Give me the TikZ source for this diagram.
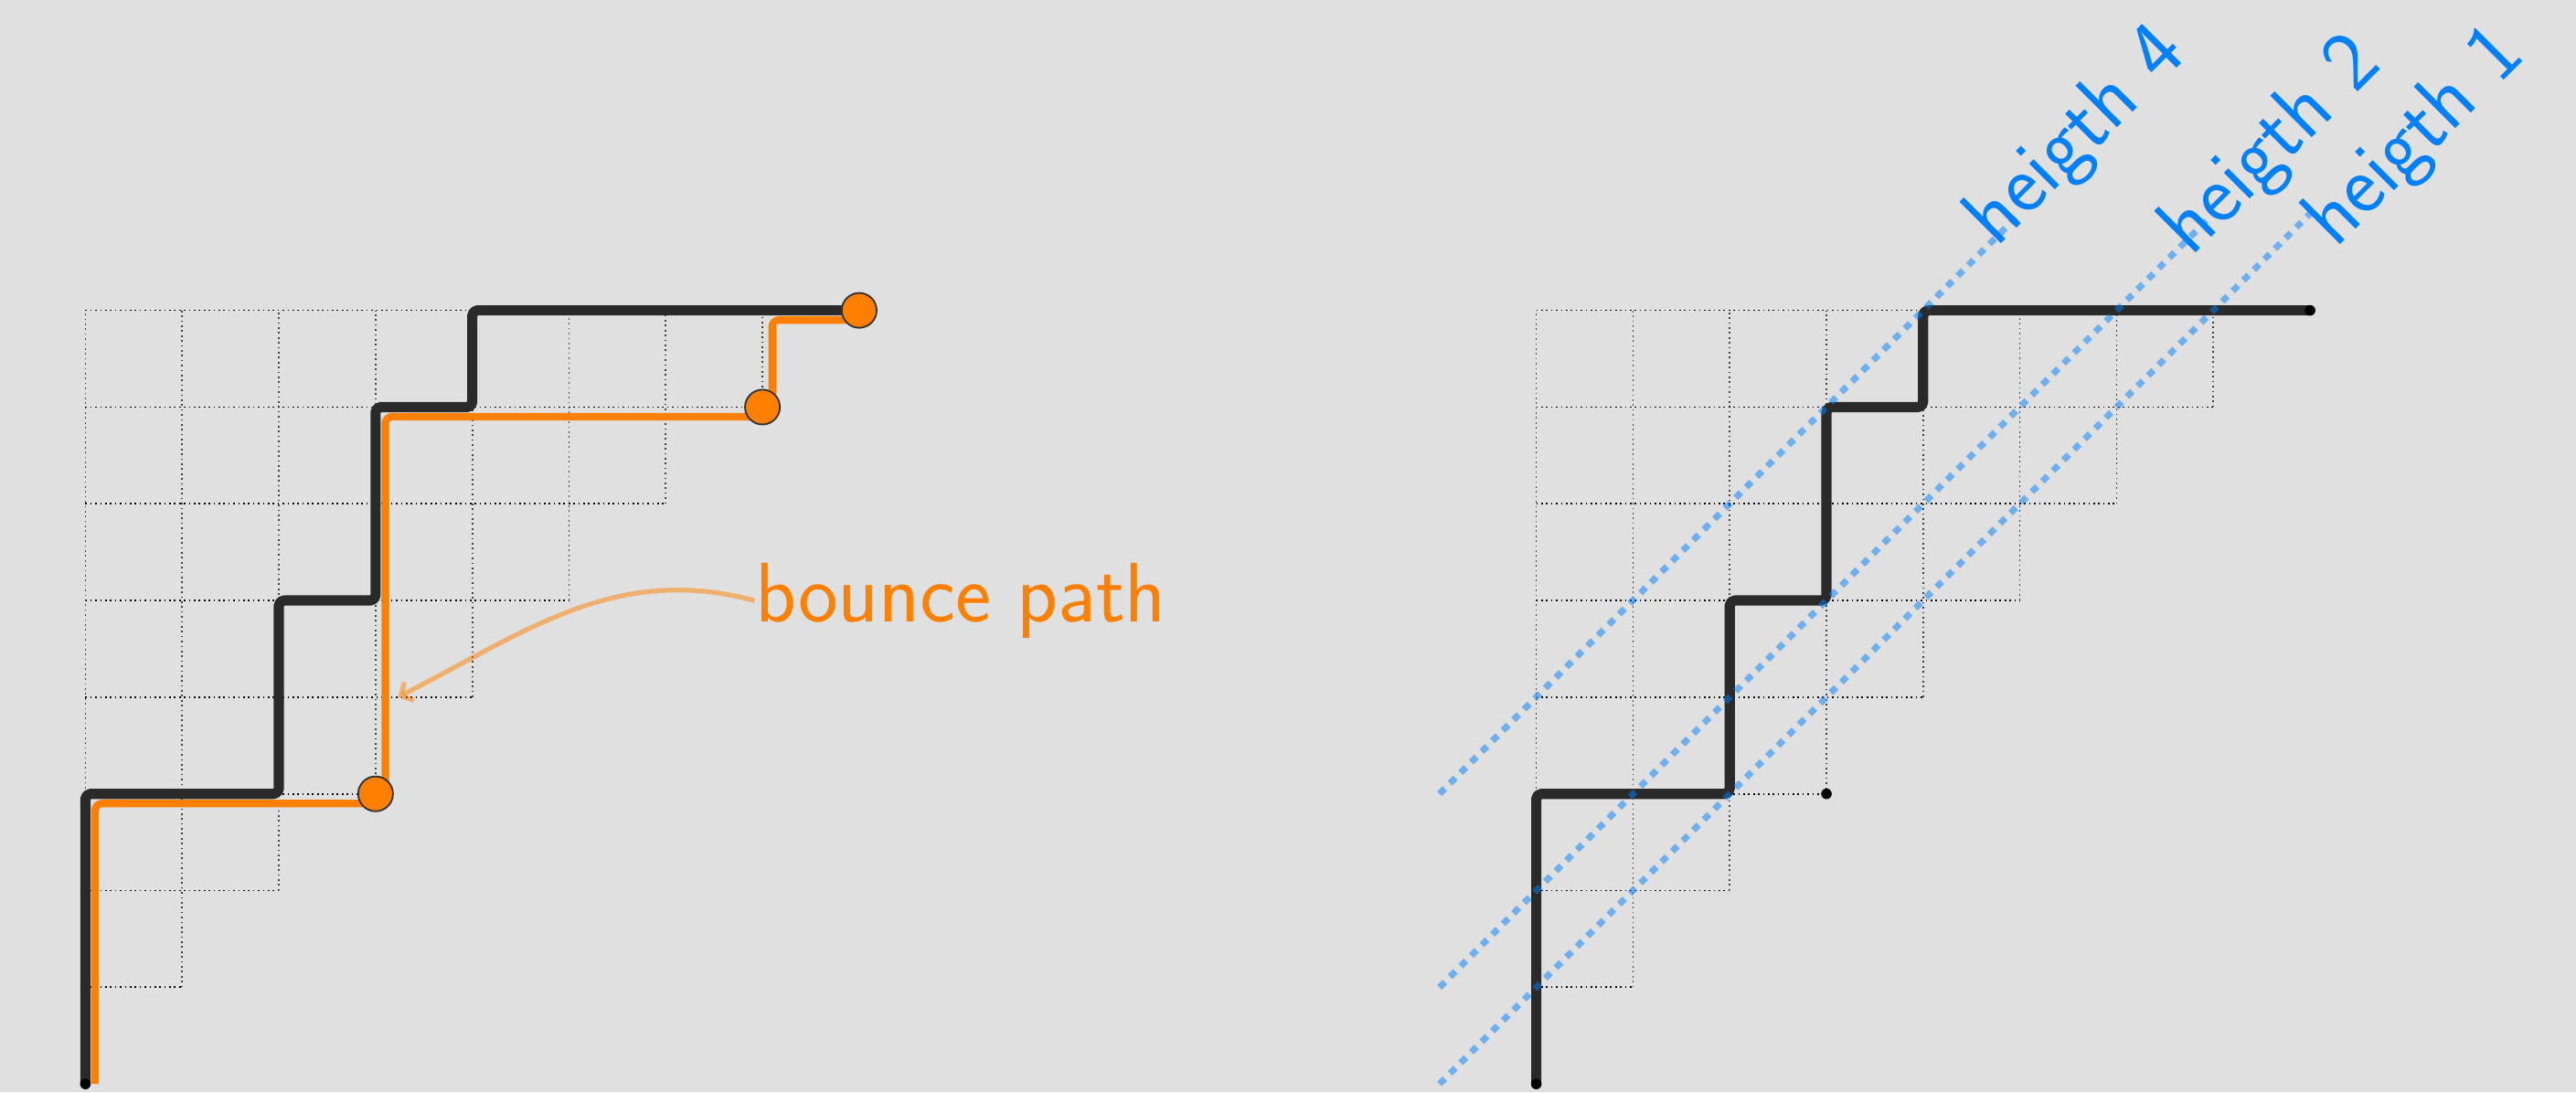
\documentclass[tikz,border=0pt]{standalone}
\usetikzlibrary{arrows.meta}
\definecolor{bg}{RGB}{224,224,224}
\definecolor{myorange}{RGB}{255,128,0}
\definecolor{myblue}{RGB}{0,128,255}
\definecolor{pathgray}{RGB}{42,42,42}
\begin{document}
\begin{tikzpicture}[
  gridh/.style={densely dotted, line width=0.45pt, black},
  gridv/.style={densely dotted, line width=0.45pt, black!75},
  dyck/.style={line width=3pt, pathgray, rounded corners=1.5pt, line join=round},
  bounce/.style={line width=2.2pt, myorange, rounded corners=2pt},
  bouncept/.style={circle, fill=myorange, draw=black!80, line width=0.5pt, minimum size=0.36cm, inner sep=0pt},
  enddot/.style={circle, fill=black, minimum size=0.11cm, inner sep=0pt},
  heightline/.style={myblue, opacity=0.5, line width=1.9pt, dash pattern=on 2.2pt off 2.2pt},
  hlabel/.style={text=myblue, font=\sffamily\Huge, rotate=45, anchor=base west, inner sep=0pt},
  bplabel/.style={text=myorange, font=\sffamily\Huge, anchor=base west, inner sep=0pt},
  barrow/.style={myorange, opacity=0.5, line width=1.4pt, -{Straight Barb[length=2.8pt,width=6pt]}}
]
\fill[bg] (-0.883,-0.085) rectangle (25.75,11.21);
\useasboundingbox (-0.883,-0.085) rectangle (25.75,11.21);

% ---- grids (both diagrams) ----
\foreach \s in {0,15} {
  \begin{scope}[xshift=\s cm]
    \foreach \i in {1,...,8} {
      \draw[gridh] (0,\i) -- (\i,\i);
      \draw[gridv] (\i,\i) -- (\i,8);
    }
    \draw[gridv] (0,0) -- (0,8);
  \end{scope}
}

% ---- left diagram ----
\draw[dyck] (0,0) -- (0,3) -- (2,3) -- (2,5) -- (3,5) -- (3,7) -- (4,7) -- (4,8) -- (8,8);
\node[enddot] (l0) at (0,0) {};
\draw[bounce] (0.1,0) -- (0.1,2.9) -- (3.1,2.9) -- (3.1,6.9) -- (7.1,6.9) -- (7.1,7.9) -- (8,7.9);
\node[bouncept] (b1) at (3,3) {};
\node[bouncept] (b2) at (7,7) {};
\node[bouncept] (b3) at (8,8) {};

\node[bplabel] (bp) at (6.92,4.78) {bounce path};
\coordinate (tgt) at (3.23,4.0);
\draw[barrow] (bp.west) to[out=165,in=27] (tgt);

% ---- right diagram ----
\draw[dyck] (15,0) -- (15,3) -- (17,3) -- (17,5) -- (18,5) -- (18,7) -- (19,7) -- (19,8) -- (23,8);
\node[enddot] (r0) at (15,0) {};
\node[enddot] (r8) at (23,8) {};
\node[enddot] (r3) at (18,3) {};

\coordinate (h4s) at (14,3);
\coordinate (h4e) at (20,9);
\coordinate (h2s) at (14,1);
\coordinate (h2e) at (22,9);
\coordinate (h1s) at (14,0);
\coordinate (h1e) at (23,9);
\draw[heightline] (h4s) -- (h4e);
\draw[heightline] (h2s) -- (h2e);
\draw[heightline] (h1s) -- (h1e);

\node[hlabel] (lh4) at (19.76,8.64) {heigth 4};
\node[hlabel] (lh2) at (21.77,8.54) {heigth 2};
\node[hlabel] (lh1) at (23.26,8.63) {heigth 1};
\end{tikzpicture}
\end{document}
